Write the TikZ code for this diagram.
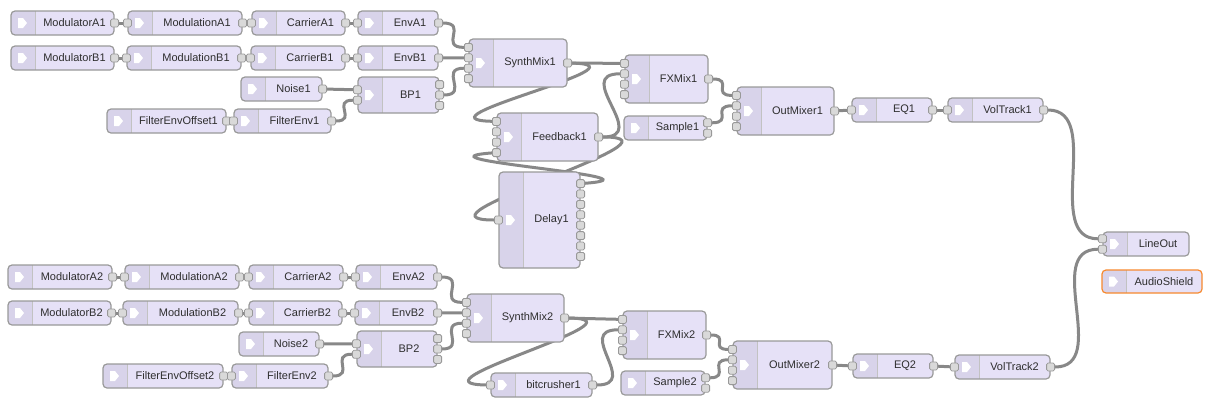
\documentclass[tikz,border=0pt]{standalone}
\usepackage{fontspec}
\setmainfont{Liberation Sans}
\usepackage{tikz}
\usetikzlibrary{positioning,calc,backgrounds}

\definecolor{lavande}{HTML}{E6E1F7}
\definecolor{icone}{HTML}{D8D3EA}
\definecolor{bordgris}{HTML}{999999}
\definecolor{portgris}{HTML}{D9D9D9}
\definecolor{filgris}{HTML}{888888}
\definecolor{textgris}{HTML}{2E2E2E}
\definecolor{orangeas}{HTML}{F7892E}

\tikzset{
  bloc/.style={draw=bordgris, line width=1.2pt, fill=lavande, rounded corners=4pt, inner sep=0pt,
    path picture={
      \fill[icone, sharp corners] (path picture bounding box.north west) rectangle ([xshift=24pt]path picture bounding box.south west);
      \draw[bordgris!60, line width=0.8pt, sharp corners] ([xshift=24pt]path picture bounding box.north west) -- ([xshift=24pt]path picture bounding box.south west);
      \fill[white, sharp corners] ([xshift=7pt]path picture bounding box.west) -- ++(0,5) -- ++(5,0) -- ++(4,-5) -- ++(-4,-5) -- ++(-5,0) -- cycle;
    }},
  texte/.style={font=\fontsize{11}{13}\selectfont, text=textgris, inner sep=0pt},
  port/.style={draw=bordgris, fill=portgris, line width=0.8pt, minimum size=8pt, inner sep=0pt, rounded corners=1.5pt},
  fil/.style={draw=filgris, line width=3pt}
}

% #2 nom, #3 x, #4 y, #5 largeur, #6 hauteur, #7 texte, #8 entrees, #9 sorties
\newcommand{\bloc}[9][]{%
  \node[bloc, minimum width=#5pt, minimum height=#6pt, #1] (#2) at (#3+#5/2, #4+#6/2) {};
  \node[texte] (#2-txt) at ([xshift=12pt]#2.center) {#7};
  \ifnum#8>0
    \foreach \i in {1,...,#8}
      \node[port] (#2-i\i) at ([yshift={-(\i-(#8+1)/2)*10.4pt}]#2.west) {};
  \fi
  \ifnum#9>0
    \foreach \i in {1,...,#9}
      \node[port] (#2-o\i) at ([yshift={-(\i-(#9+1)/2)*10.4pt}]#2.east) {};
  \fi
}

\begin{document}
\begin{tikzpicture}[x=1pt, y=-1pt]
    \useasboundingbox (0,0) rectangle (1209,410);

    % Blocs : nom/x/y/largeur/hauteur/entrees/sorties
    \foreach \nom/\px/\py/\w/\h/\ni/\no in {
        ModulatorA1/11/11/103/24/0/1, ModulationA1/128/11/114/24/1/1, CarrierA1/252/11/93/24/1/1, EnvA1/358/11/80/24/1/1,
        ModulatorB1/11/46/103/24/0/1, ModulationB1/127/46/114/24/1/1, CarrierB1/251/46/94/24/1/1, EnvB1/358/46/80/24/1/1,
        Noise1/241/77/81/24/0/1, BP1/358/77/81/36/2/3,
        FilterEnvOffset1/107/109/119/24/0/1, FilterEnv1/234/109/97/24/1/1,
        SynthMix1/469/39/98/48/4/1, FXMix1/625/55/83/48/4/1, OutMixer1/737/87/97/48/4/1,
        Sample1/624/116/83/24/0/2, Feedback1/497/113/101/48/4/1, Delay1/499/172/81/96/1/8,
        EQ1/852/98/80/24/1/1, VolTrack1/948/98/95/24/1/1, LineOut/1103/232/86/24/2/0,
        ModulatorA2/8/265/104/24/0/1, ModulationA2/125/265/114/24/1/1, CarrierA2/249/265/94/24/1/1, EnvA2/356/265/81/24/1/1,
        ModulatorB2/8/301/103/24/0/1, ModulationB2/123/301/115/24/1/1, CarrierB2/249/301/93/24/1/1, EnvB2/355/301/82/24/1/1,
        Noise2/239/332/80/24/0/1, BP2/357/331/80/36/2/3,
        FilterEnvOffset2/103/364/120/24/0/1, FilterEnv2/232/364/96/24/1/1,
        SynthMix2/467/294/97/48/4/1, FXMix2/623/311/83/48/4/1, OutMixer2/733/341/99/48/4/1,
        bitcrusher1/491/373/101/24/1/1, Sample2/621/371/84/24/0/2,
        EQ2/853/354/80/24/1/1, VolTrack2/955/355/95/24/1/1} {
        \bloc{\nom}{\px}{\py}{\w}{\h}{\nom}{\ni}{\no}
    }
    \bloc[draw=orangeas]{AudioShield}{1102}{270}{100}{23}{AudioShield}{0}{0}

    % Connexions
    \begin{scope}[on background layer]
        % chaines en ligne droite
        \foreach \a/\b in {
            ModulatorA1/ModulationA1, ModulationA1/CarrierA1, CarrierA1/EnvA1,
            ModulatorB1/ModulationB1, ModulationB1/CarrierB1, CarrierB1/EnvB1,
            FilterEnvOffset1/FilterEnv1, OutMixer1/EQ1, EQ1/VolTrack1,
            ModulatorA2/ModulationA2, ModulationA2/CarrierA2, CarrierA2/EnvA2,
            ModulatorB2/ModulationB2, ModulationB2/CarrierB2, CarrierB2/EnvB2,
            FilterEnvOffset2/FilterEnv2, OutMixer2/EQ2, EQ2/VolTrack2} {
            \draw[fil] (\a-o1) -- (\b-i1);
        }

        % voix 1
        \draw[fil] (Noise1-o1) -- (BP1-i1);
        \draw[fil] (FilterEnv1-o1) .. controls +(26,0) and +(-26,0) .. (BP1-i2);
        \draw[fil] (EnvA1-o1) .. controls +(30,0) and +(-30,0) .. (SynthMix1-i1);
        \draw[fil] (EnvB1-o1) -- (SynthMix1-i2);
        \draw[fil] (BP1-o2) .. controls +(30,0) and +(-30,0) .. (SynthMix1-i3);
        \draw[fil] (SynthMix1-o1) -- (FXMix1-i1);
        \draw[fil] (SynthMix1-o1) .. controls +(88,2) and +(-88,-2) .. (Feedback1-i1);
        \draw[fil] (Feedback1-o1) .. controls +(52,0) and +(-52,0) .. (FXMix1-i2);
        \draw[fil] (Feedback1-o1) .. controls +(100,0) and +(-100,0) .. (Delay1-i1);
        \draw[fil] (Delay1-o1) .. controls +(93,-7) and +(-93,7) .. (Feedback1-i4);
        \draw[fil] (FXMix1-o1) .. controls +(25,0) and +(-25,0) .. (OutMixer1-i1);
        \draw[fil] (Sample1-o1) .. controls +(26,0) and +(-26,0) .. (OutMixer1-i2);
        \draw[fil] (VolTrack1-o1) .. controls +(60,0) and +(-60,0) .. (LineOut-i1);

        % voix 2
        \draw[fil] (Noise2-o1) -- (BP2-i1);
        \draw[fil] (FilterEnv2-o1) .. controls +(27,0) and +(-27,0) .. (BP2-i2);
        \draw[fil] (EnvA2-o1) .. controls +(29,0) and +(-29,0) .. (SynthMix2-i1);
        \draw[fil] (EnvB2-o1) -- (SynthMix2-i2);
        \draw[fil] (BP2-o2) .. controls +(29,0) and +(-29,0) .. (SynthMix2-i3);
        \draw[fil] (SynthMix2-o1) -- (FXMix2-i1);
        \draw[fil] (SynthMix2-o1) .. controls +(89,1) and +(-89,-1) .. (bitcrusher1-i1);
        \draw[fil] (bitcrusher1-o1) .. controls +(48,0) and +(-48,0) .. (FXMix2-i2);
        \draw[fil] (FXMix2-o1) .. controls +(23,0) and +(-23,0) .. (OutMixer2-i1);
        \draw[fil] (Sample2-o1) .. controls +(25,0) and +(-25,0) .. (OutMixer2-i2);
        \draw[fil] (VolTrack2-o1) .. controls +(60,0) and +(-60,0) .. (LineOut-i2);
    \end{scope}
\end{tikzpicture}
\end{document}
